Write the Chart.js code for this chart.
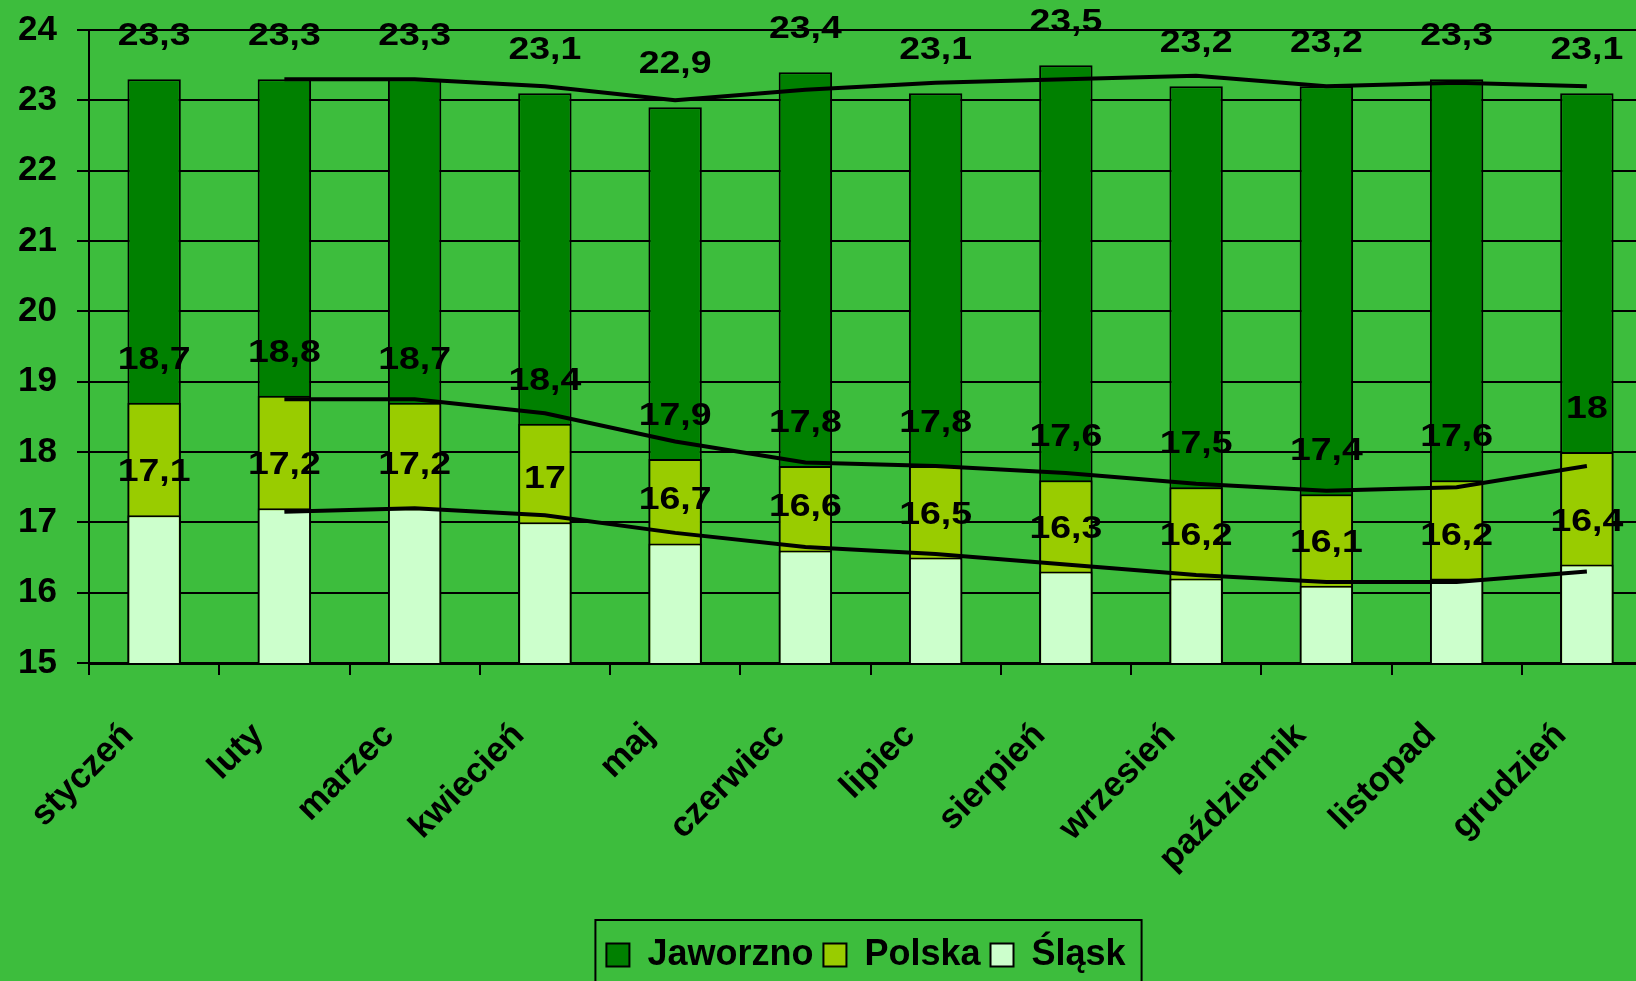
<!DOCTYPE html>
<html>
<head>
<meta charset="utf-8">
<script src="https://cdn.jsdelivr.net/npm/chart.js@4/dist/chart.umd.min.js"></script>
<style>
  html, body { margin: 0; padding: 0; background: #3dbd3d; overflow: hidden; }
</style>
</head>
<body>
<canvas id="tempChart" width="1660" height="990"></canvas>
<script>
const months = ["styczeń", "luty", "marzec", "kwiecień", "maj", "czerwiec",
  "lipiec", "sierpień", "wrzesień", "październik", "listopad", "grudzień"];

const jaworzno = [23.3, 23.3, 23.3, 23.1, 22.9, 23.4, 23.1, 23.5, 23.2, 23.2, 23.3, 23.1];
const polska = [18.7, 18.8, 18.7, 18.4, 17.9, 17.8, 17.8, 17.6, 17.5, 17.4, 17.6, 18];
const slask = [17.1, 17.2, 17.2, 17, 16.7, 16.6, 16.5, 16.3, 16.2, 16.1, 16.2, 16.4];

// trend lines
const jaworznoTrend = [null, 23.3, 23.3, 23.2, 23.0, 23.15, 23.25, 23.3, 23.35, 23.2, 23.25, 23.2];
const polskaTrend = [null, 18.75, 18.75, 18.55, 18.15, 17.85, 17.8, 17.7, 17.55, 17.45, 17.5, 17.8];
const slaskTrend = [null, 17.15, 17.2, 17.1, 16.85, 16.65, 16.55, 16.4, 16.25, 16.15, 16.15, 16.3];

const yTicks = [15, 16, 17, 18, 19, 20, 21, 22, 23, 24];

const FONT = '"Liberation Sans", Arial, sans-serif';

// value labels above each bar (font is a bit stretched in the original)
const valueLabels = {
  id: "valueLabels",
  afterDatasetsDraw(chart) {
    const ctx = chart.ctx;
    ctx.save();
    ctx.font = "bold 32px " + FONT;
    ctx.fillStyle = "#000";
    ctx.textAlign = "center";
    ctx.textBaseline = "alphabetic";
    chart.data.datasets.forEach((ds, i) => {
      if (ds.type === "line") return;
      const meta = chart.getDatasetMeta(i);
      meta.data.forEach((bar, j) => {
        ctx.save();
        ctx.translate(bar.x, bar.y - 34);
        ctx.scale(1.17, 1);
        ctx.fillText(String(ds.data[j]).replace(".", ","), 0, 0);
        ctx.restore();
      });
    });
    ctx.restore();
  },
};

// legend sits a bit right of centre, with a frame round it
const legendFrame = {
  id: "legendFrame",
  afterLayout(chart) {
    chart.legend.left += 40;
    chart.legend.right += 40;
  },
  afterDraw(chart) {
    const boxes = chart.legend.legendHitBoxes;
    if (!boxes || !boxes.length) return;
    const first = boxes[0];
    const last = boxes[boxes.length - 1];
    const ctx = chart.ctx;
    ctx.save();
    ctx.strokeStyle = "#000";
    ctx.lineWidth = 2;
    ctx.strokeRect(first.left - 11, first.top - 17, last.left + last.width - first.left + 27, 100);
    ctx.restore();
  },
};

const barStyle = {
  borderColor: "#000",
  borderWidth: 2,
  grouped: false,
  categoryPercentage: 1,
  barPercentage: 0.41,
};

const lineStyle = {
  type: "line",
  borderColor: "#000",
  borderWidth: 4,
  pointRadius: 0,
  fill: false,
  tension: 0,
  order: 0,
};

const ctx = document.getElementById("tempChart").getContext("2d");

const chart = new Chart(ctx, {
  type: "bar",
  data: {
    labels: months,
    datasets: [
      { ...barStyle, label: "Jaworzno", data: jaworzno, backgroundColor: "#008000", order: 3 },
      { ...barStyle, label: "Polska", data: polska, backgroundColor: "#99cc00", order: 2 },
      { ...barStyle, label: "Śląsk", data: slask, backgroundColor: "#ccffcc", order: 1 },
      { ...lineStyle, label: "trendJ", data: jaworznoTrend },
      { ...lineStyle, label: "trendP", data: polskaTrend },
      { ...lineStyle, label: "trendS", data: slaskTrend },
    ],
  },
  options: {
    responsive: false,
    animation: false,
    layout: { padding: { top: 30, right: 8, bottom: 7, left: 0 } },
    plugins: {
      tooltip: { enabled: false },
      legend: {
        position: "bottom",
        labels: {
          color: "#000",
          font: { family: FONT, size: 36, weight: "bold" },
          boxWidth: 23,
          boxHeight: 23,
          padding: 10,
          filter: (item) => item.datasetIndex < 3,
          sort: (a, b) => a.datasetIndex - b.datasetIndex,
        },
      },
    },
    scales: {
      x: {
        offset: true,
        grid: {
          offset: true,
          drawOnChartArea: false,
          drawTicks: true,
          tickLength: 12,
          color: "#000",
          lineWidth: 2,
        },
        border: { color: "#000", width: 3 },
        ticks: {
          color: "#000",
          font: { family: FONT, size: 35, weight: "bold" },
          minRotation: 45,
          maxRotation: 45,
          padding: 40,
          labelOffset: -26,
        },
        afterFit: (s) => { s.height = 264; },
      },
      y: {
        min: yTicks[0],
        max: yTicks[yTicks.length - 1],
        afterBuildTicks: (s) => { s.ticks = yTicks.map((v) => ({ value: v })); },
        grid: { color: "#000", lineWidth: 2, tickLength: 12 },
        border: { color: "#000", width: 2 },
        ticks: {
          color: "#000",
          font: { family: FONT, size: 35, weight: "bold" },
          padding: 20,
        },
        afterFit: (s) => {
          s.width = 89;
          s.paddingTop = 0;
          s.paddingBottom = 0;
        },
      },
    },
  },
  plugins: [valueLabels, legendFrame],
});
</script>
</body>
</html>
